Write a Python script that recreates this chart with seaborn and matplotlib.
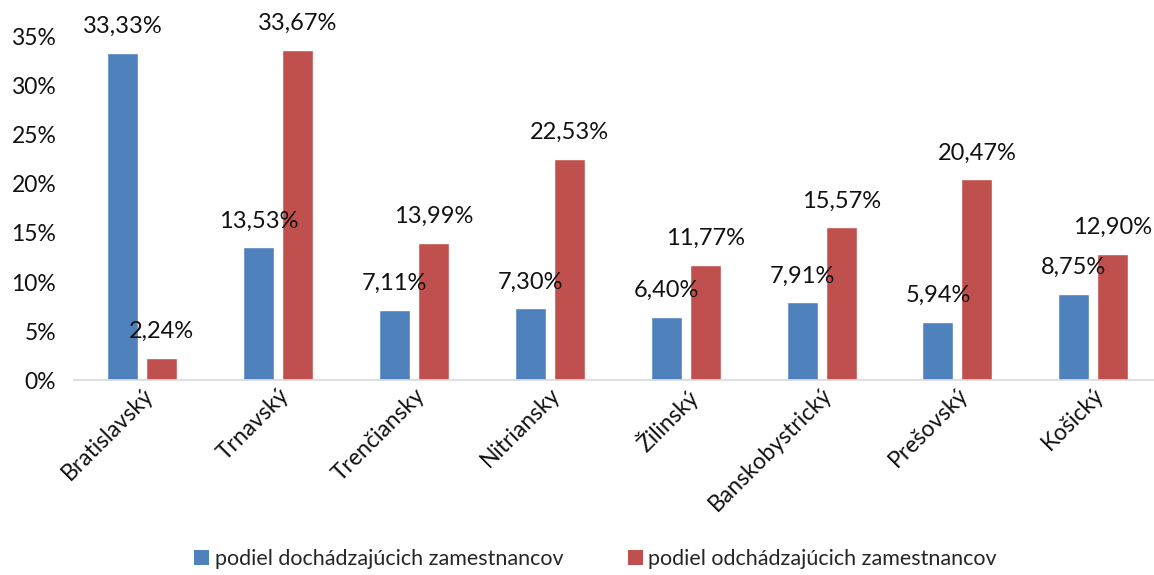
import matplotlib
matplotlib.use("Agg")
import matplotlib.pyplot as plt
import seaborn as sns
import pandas as pd
from matplotlib.patches import Patch
from matplotlib.ticker import FuncFormatter, MultipleLocator

regions = ["Bratislavský", "Trnavský", "Trenčiansky", "Nitriansky", "Žilinský",
           "Banskobystrický", "Prešovský", "Košický"]
series_names = ["podiel dochádzajúcich zamestnancov", "podiel odchádzajúcich zamestnancov"]
dochadzajuci = [33.33, 13.53, 7.11, 7.30, 6.40, 7.91, 5.94, 8.75]
odchadzajuci = [2.24, 33.67, 13.99, 22.53, 11.77, 15.57, 20.47, 12.90]
colors = ["#4F81BD", "#C0504D"]

df = pd.DataFrame({
    "region": regions * 2,
    "series": [series_names[0]] * len(regions) + [series_names[1]] * len(regions),
    "value": dochadzajuci + odchadzajuci,
})

sns.set_theme(style="white")
plt.rcParams["font.family"] = ["Lato", "DejaVu Sans"]

fig = plt.figure(figsize=(11.54, 5.75), dpi=100)
ax = fig.add_axes([0.0644, 0.3391, 0.9419, 0.5966])

sns.barplot(data=df, x="region", y="value", hue="series", palette=colors,
            width=0.574, gap=0.206, ax=ax, legend=False, saturation=1, errorbar=None)

ax.set_ylim(0, 35)
ax.yaxis.set_major_locator(MultipleLocator(5))
ax.yaxis.set_major_formatter(FuncFormatter(lambda v, p: f"{int(round(v))}%"))
ax.set_xlim(-0.5, len(regions) - 0.5)
ax.set_xlabel("")
ax.set_ylabel("")
ax.tick_params(axis="y", labelsize=16.5, length=0, pad=13, colors="#111111")
ax.tick_params(axis="x", labelsize=16.5, length=0, pad=3, colors="#111111")
for lab in ax.get_xticklabels():
    lab.set_rotation(45)
    lab.set_ha("right")
    lab.set_rotation_mode("anchor")

for s in ["top", "right", "left"]:
    ax.spines[s].set_visible(False)
ax.spines["bottom"].set_color("#D9D9D9")
ax.spines["bottom"].set_linewidth(1.2)

for container in ax.containers:
    labels = [f"{b.get_height():.2f}".replace(".", ",") + "%" for b in container]
    for bar, lab in zip(container, labels):
        ax.annotate(lab, (bar.get_x() + bar.get_width() / 2, bar.get_height()),
                    xytext=(0, 16), textcoords="offset pixels", ha="center", va="bottom",
                    fontsize=17, color="#111111", annotation_clip=False)

handles = [Patch(facecolor=c, edgecolor="none") for c in colors]
fig.legend(handles, series_names, loc="center", bbox_to_anchor=(0.516, 0.028), ncol=2,
           frameon=False, fontsize=15.5, handlelength=0.7, handleheight=0.7,
           handletextpad=0.25, columnspacing=3.0)

fig.savefig("out.png", dpi=100)
